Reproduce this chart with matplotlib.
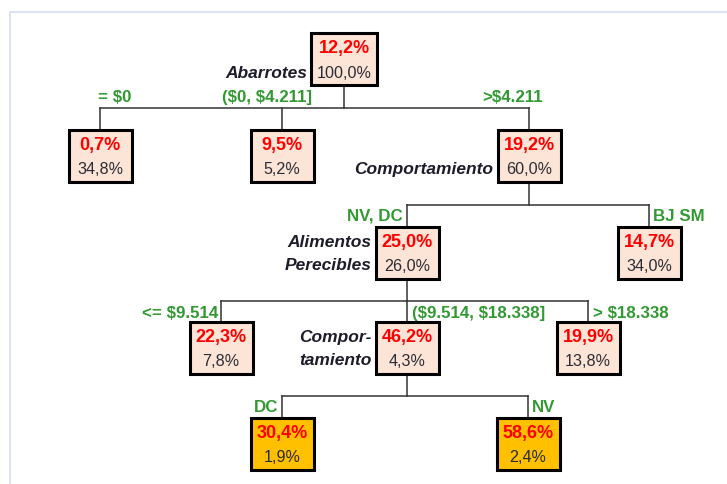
import matplotlib
matplotlib.use('Agg')
import matplotlib.pyplot as plt
from matplotlib.patches import Rectangle

plt.rcParams['font.family'] = ['Liberation Sans', 'DejaVu Sans']
plt.rcParams['text.parse_math'] = False

# tree data: response rate and share of customers per node
rates = [12.2, 0.7, 9.5, 19.2, 25.0, 14.7, 22.3, 46.2, 19.9, 30.4, 58.6]
shares = [100.0, 34.8, 5.2, 60.0, 26.0, 34.0, 7.8, 4.3, 13.8, 1.9, 2.4]
parents = [None, 0, 0, 0, 3, 3, 4, 4, 4, 7, 7]
branch_labels = [None, '= $0', '($0, $4.211]', '>$4.211', 'NV, DC', 'BJ SM',
                 '<= $9.514', '($9.514, $18.338]', '> $18.338', 'DC', 'NV']
split_vars = {0: 'Abarrotes', 3: 'Comportamiento', 4: 'Alimentos\nPerecibles',
              7: 'Compor-\ntamiento'}
highlight = [9, 10]

# layout in pixels: box centre x, box top y
node_x = [344, 100, 282, 529, 407, 649, 221, 407, 588, 282, 528]
node_top = [34, 131, 131, 131, 228, 228, 323, 323, 323, 419, 419]
box_w = [66, 63, 63, 63, 63, 63, 63, 63, 63, 63, 63]
box_h = 52
# branch label anchors (x, ha, y offset from bar)
lab_pos = [None, (115, 'center', -11), (267, 'center', -11), (513, 'center', -11),
           (403, 'right', 11), (653, 'left', 11),
           (218, 'right', 12), (412, 'left', 12), (593, 'left', 12),
           (278, 'right', 11), (532, 'left', 11)]

fig = plt.figure(figsize=(7.27, 4.85), dpi=100)
ax = fig.add_axes([0, 0, 1, 1])
ax.set_xlim(0, 727)
ax.set_ylim(485, 0)
ax.axis('off')

# light frame of the original panel
ax.plot([9.5, 727], [12.5, 12.5], color='#d9e0ee', lw=1.3)
ax.plot([9.5, 9.5], [12.5, 485], color='#d9e0ee', lw=1.3)

line_col = '#333333'
green = '#339933'

def fmt(v):
    return f'{v:.1f}%'.replace('.', ',')

# connectors
for p in sorted(set(x for x in parents if x is not None)):
    kids = [i for i, q in enumerate(parents) if q == p]
    bottom = node_top[p] + box_h
    bar_y = (bottom + node_top[kids[0]]) / 2
    ax.plot([node_x[p], node_x[p]], [bottom, bar_y], color=line_col, lw=1.1)
    xs = [node_x[k] for k in kids]
    ax.plot([min(xs), max(xs)], [bar_y, bar_y], color=line_col, lw=1.1)
    for k in kids:
        ax.plot([node_x[k], node_x[k]], [bar_y, node_top[k]], color=line_col, lw=1.1)
        lx, ha, dy = lab_pos[k]
        ax.text(lx, bar_y + dy, branch_labels[k], color=green, fontsize=12.2,
                fontweight='bold', ha=ha, va='center')

# nodes
for i in range(len(rates)):
    w = box_w[i]
    face = '#ffc000' if i in highlight else '#fce4d6'
    ax.add_patch(Rectangle((node_x[i] - w / 2, node_top[i]), w, box_h,
                           facecolor=face, edgecolor='black', lw=2.2, zorder=3))
    ax.text(node_x[i], node_top[i] + 15, fmt(rates[i]), color='#ff0000',
            fontsize=13, fontweight='bold', ha='center', va='center', zorder=4)
    ax.text(node_x[i], node_top[i] + 39, fmt(shares[i]), color='#2b2b35',
            fontsize=11.6, ha='center', va='center', zorder=4)
    if i in split_vars:
        lines = split_vars[i].split('\n')
        ys = [node_top[i] + 39] if len(lines) == 1 else [node_top[i] + 15, node_top[i] + 38]
        for t, y in zip(lines, ys):
            ax.text(node_x[i] - w / 2 - 4, y, t, color='#1c1c2a', fontsize=12.5,
                    fontweight='bold', fontstyle='italic', ha='right', va='center')

fig.savefig('out.png', dpi=100)
